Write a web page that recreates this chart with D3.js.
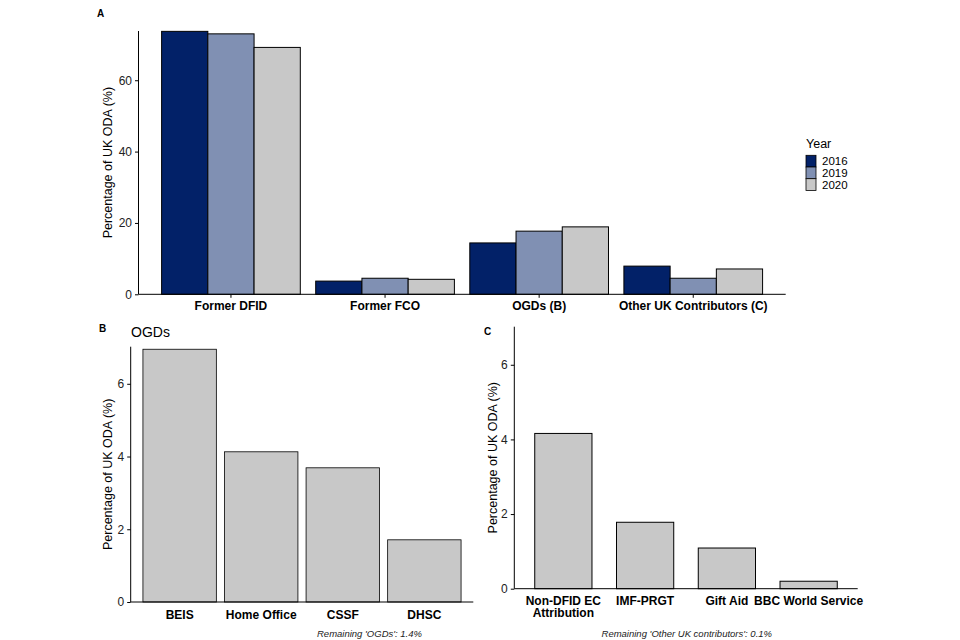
<!DOCTYPE html>
<html>
<head>
    <meta charset="UTF-8">
    <title>UK ODA by contributor</title>
    <script src="https://d3js.org/d3.v7.min.js"></script>
    <style type="text/css">
        body { margin: 0; background: #fff; }
        svg { font-family: "Liberation Sans", Arial, sans-serif; }
        .tick text { fill: #222; }
    </style>
</head>
<body>
<script type="text/javascript">
    // Panel A data: share of UK ODA by group and year
    var groups = ["Former DFID", "Former FCO", "OGDs (B)", "Other UK Contributors (C)"];
    var years = ["2016", "2019", "2020"];
    var values2016 = [73.7, 3.7, 14.4, 7.9];
    var values2019 = [73.0, 4.5, 17.7, 4.5];
    var values2020 = [69.2, 4.2, 18.9, 7.1];
    var yearColours = ["#022168", "#8090b3", "#c8c8c8"];
    var ticksA = [0, 20, 40, 60];

    // Panel B data: OGDs 2020
    var ogdNames = ["BEIS", "Home Office", "CSSF", "DHSC"];
    var ogdValues = [6.95, 4.13, 3.69, 1.71];

    // Panel C data: other UK contributors 2020
    var otherNames = ["Non-DFID EC\nAttribution", "IMF-PRGT", "Gift Aid", "BBC World Service"];
    var otherValues = [4.16, 1.78, 1.09, 0.2];
    var ticksBC = [0, 2, 4, 6];

    var svg = d3.select("body").append("svg")
        .attr("width", 960)
        .attr("height", 640);

    // draw a y axis with a vertical title
    function yAxis(g, y, ticks, left, titleX) {
        g.append("g")
            .attr("transform", "translate(" + left + ",0)")
            .call(d3.axisLeft(y).tickValues(ticks).tickFormat(d3.format("d")).tickSize(3.5).tickPadding(3))
            .call(function (a) {
                a.select(".domain").attr("d", "M0," + y.range()[1] + "V" + y.range()[0]).attr("stroke", "#000");
                a.selectAll("text").style("font-size", "12px");
            });
        var mid = (y.range()[0] + y.range()[1]) / 2;
        g.append("text")
            .attr("transform", "translate(" + titleX + "," + mid + ") rotate(-90)")
            .attr("text-anchor", "middle")
            .attr("dy", "0.35em")
            .style("font-size", "12.5px")
            .text("Percentage of UK ODA (%)");
    }

    function xAxisLine(g, x0, x1, yPos) {
        g.append("line")
            .attr("x1", x0).attr("x2", x1)
            .attr("y1", yPos).attr("y2", yPos)
            .attr("stroke", "#000");
    }

    // ---------- Panel A ----------
    var A = { left: 138.5, right: 785.7, top: 31, bottom: 294.3 };
    var gA = svg.append("g");
    var xA = d3.scaleBand().domain(groups).range([A.left, A.right]).paddingInner(0.1).paddingOuter(0.15);
    var xYear = d3.scaleBand().domain(years).range([0, xA.bandwidth()]);
    var yA = d3.scaleLinear().domain([0, 73.8]).range([A.bottom, A.top]);
    var seriesA = [values2016, values2019, values2020];

    var rowsA = [];
    groups.forEach(function (grp, i) {
        years.forEach(function (yr, j) {
            rowsA.push({ group: grp, year: yr, value: seriesA[j][i], colour: yearColours[j] });
        });
    });

    gA.selectAll("rect.bar")
        .data(rowsA)
        .enter().append("rect")
        .attr("class", "bar")
        .attr("x", function (d) { return xA(d.group) + xYear(d.year); })
        .attr("width", xYear.bandwidth())
        .attr("y", function (d) { return yA(d.value); })
        .attr("height", function (d) { return yA(0) - yA(d.value); })
        .attr("fill", function (d) { return d.colour; })
        .attr("stroke", "#000")
        .attr("stroke-width", 1);

    yAxis(gA, yA, ticksA, A.left, 108);
    gA.append("g")
        .attr("transform", "translate(0," + A.bottom + ")")
        .call(d3.axisBottom(xA).tickSize(3.5).tickPadding(4))
        .call(function (a) {
            a.select(".domain").remove();
            a.selectAll("text").style("font-size", "12px").style("font-weight", "bold").style("fill", "#000");
        });
    xAxisLine(gA, A.left, A.right, A.bottom);

    gA.append("text").attr("x", 97).attr("y", 17)
        .style("font-size", "10px").style("font-weight", "bold").text("A");

    // legend
    var legend = gA.append("g").attr("transform", "translate(806,0)");
    legend.append("text").attr("x", 0).attr("y", 148).style("font-size", "12.5px").text("Year");
    years.forEach(function (yr, j) {
        var top = 155.3 + j * 11.7;
        legend.append("rect")
            .attr("x", 0).attr("y", top)
            .attr("width", 10).attr("height", 11.7)
            .attr("fill", yearColours[j])
            .attr("stroke", "#000").attr("stroke-width", 0.8);
        legend.append("text")
            .attr("x", 16).attr("y", top + 5.85)
            .attr("dy", "0.35em")
            .style("font-size", "11.5px")
            .text(yr);
    });

    // ---------- Panel B ----------
    var B = { left: 130.7, right: 473.3, top: 346.7, bottom: 602 };
    var gB = svg.append("g");
    var xB = d3.scaleBand().domain(ogdNames).range([B.left, B.right]).paddingInner(0.1).paddingOuter(0.15);
    var yB = d3.scaleLinear().domain([0, 7.02]).range([B.bottom, B.top]);

    gB.selectAll("rect.bar")
        .data(ogdNames)
        .enter().append("rect")
        .attr("class", "bar")
        .attr("x", function (d) { return xB(d); })
        .attr("width", xB.bandwidth())
        .attr("y", function (d, i) { return yB(ogdValues[i]); })
        .attr("height", function (d, i) { return yB(0) - yB(ogdValues[i]); })
        .attr("fill", "#c8c8c8")
        .attr("stroke", "#000")
        .attr("stroke-width", 0.8);

    yAxis(gB, yB, ticksBC, B.left, 108);
    gB.append("g")
        .attr("transform", "translate(0," + B.bottom + ")")
        .call(d3.axisBottom(xB).tickSize(0).tickPadding(8))
        .call(function (a) {
            a.select(".domain").remove();
            a.selectAll("text").style("font-size", "12px").style("font-weight", "bold").style("fill", "#000");
        });
    xAxisLine(gB, B.left, B.right, B.bottom);

    gB.append("text").attr("x", 99).attr("y", 332)
        .style("font-size", "10px").style("font-weight", "bold").text("B");
    gB.append("text").attr("x", 131).attr("y", 337)
        .style("font-size", "14px").text("OGDs");
    gB.append("text").attr("x", 422).attr("y", 637)
        .attr("text-anchor", "end")
        .style("font-size", "9.5px").style("font-style", "italic").style("fill", "#222")
        .text("Remaining 'OGDs': 1.4%");

    // ---------- Panel C ----------
    var C = { left: 514.3, right: 857.7, top: 326.7, bottom: 588.7 };
    var gC = svg.append("g");
    var xC = d3.scaleBand().domain(otherNames).range([C.left, C.right]).paddingInner(0.3).paddingOuter(0.25);
    var yC = d3.scaleLinear().domain([0, 7.02]).range([C.bottom, C.top]);

    gC.selectAll("rect.bar")
        .data(otherNames)
        .enter().append("rect")
        .attr("class", "bar")
        .attr("x", function (d) { return xC(d); })
        .attr("width", xC.bandwidth())
        .attr("y", function (d, i) { return yC(otherValues[i]); })
        .attr("height", function (d, i) { return yC(0) - yC(otherValues[i]); })
        .attr("fill", "#c8c8c8")
        .attr("stroke", "#000")
        .attr("stroke-width", 1);

    yAxis(gC, yC, ticksBC, C.left, 493);
    var labelsC = gC.append("g");
    otherNames.forEach(function (name) {
        var t = labelsC.append("text")
            .attr("text-anchor", "middle")
            .style("font-size", "12px").style("font-weight", "bold");
        name.split("\n").forEach(function (line, k) {
            t.append("tspan")
                .attr("x", xC(name) + xC.bandwidth() / 2)
                .attr("y", C.bottom + 16 + k * 12.7)
                .text(line);
        });
    });
    xAxisLine(gC, C.left, C.right, C.bottom);

    gC.append("text").attr("x", 484).attr("y", 335)
        .style("font-size", "10px").style("font-weight", "bold").text("C");
    gC.append("text").attr("x", 772).attr("y", 637)
        .attr("text-anchor", "end")
        .style("font-size", "9.5px").style("font-style", "italic").style("fill", "#222")
        .text("Remaining 'Other UK contributors': 0.1%");
</script>
</body>
</html>
